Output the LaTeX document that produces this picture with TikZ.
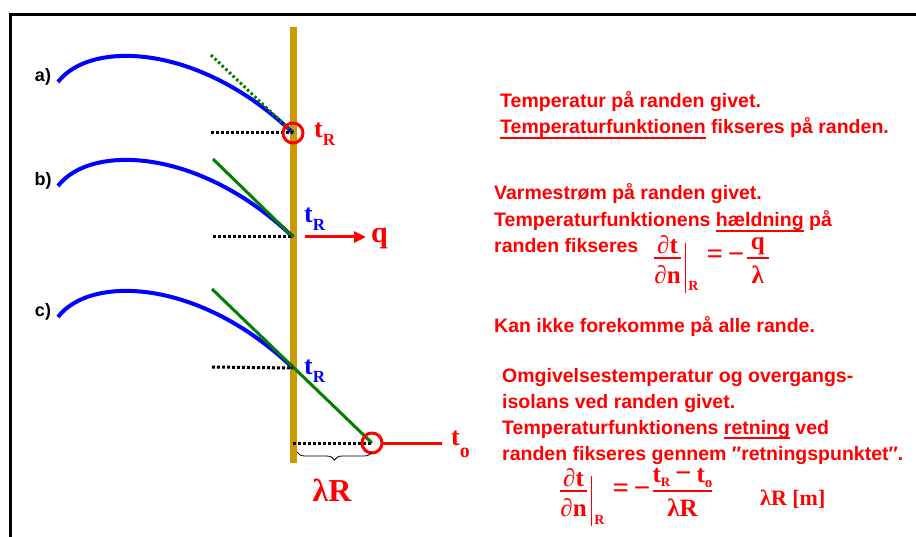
\documentclass[tikz,border=0pt]{standalone}
\usepackage{amsmath}
\usepackage{fontspec}
\setmainfont{Liberation Sans}
\newfontfamily\tnrfont{Liberation Serif}
\usetikzlibrary{arrows.meta, decorations.pathreplacing}
\definecolor{wallgold}{RGB}{204, 153, 0}
\definecolor{tanggreen}{RGB}{0, 128, 0}
\definecolor{curveblue}{RGB}{0, 0, 255}
\definecolor{textred}{RGB}{255, 0, 0}
\newcommand{\tsub}[3]{t\raisebox{-#2pt}{\fontsize{#1}{#1}\selectfont #3}}
\newcommand{\ulword}[1]{\setbox0\hbox{#1}\rlap{\rule[-5pt]{\wd0}{1.8pt}}\box0\relax}
\newcommand{\bdfrac}[2]{\genfrac{}{}{1.8pt}{1}{\hbox{#1\rule[-2pt]{0pt}{2pt}}}{\hbox{\rule{0pt}{23pt}#2}}}
\newcommand{\bigsign}[1]{\hbox{\fontsize{29}{29}\selectfont #1}}
\newcommand{\eqminus}{\bigsign{\;=\,−\kern1pt}}
\newcommand{\atR}{\kern3pt\rule[-29pt]{1.5pt}{50pt}\kern2pt\raisebox{-27pt}{\fontsize{14}{14}\selectfont R}}

\begin{document}
\begin{tikzpicture}[x=1pt, y=-1pt, >=Stealth,
    curve/.style={curveblue, line width=4pt},
    tangent/.style={tanggreen, line width=3pt},
    levelline/.style={black, line width=3pt, dash pattern=on 3pt off 2pt},
    ring/.style={textred, line width=3pt},
    txt/.style={textred, anchor=base west, inner sep=0pt, font=\fontsize{19.5}{26}\selectfont\bfseries},
    tlabel/.style={anchor=base west, inner sep=0pt, font=\tnrfont\bfseries\fontsize{26}{26}\selectfont},
    fmla/.style={textred, anchor=base west, inner sep=0pt, font=\tnrfont\bfseries\fontsize{25}{25}\selectfont}]
    \useasboundingbox (0,0) rectangle (916,537);
    \draw[line width=3pt] (10,537) |- (916,15);
    \draw[wallgold, line width=7pt] (293,27) coordinate (walltop) -- (293,463) coordinate (wallbot);
    \foreach \lbl/\dy in {a/0, b/104, c/235} {
        \begin{scope}[shift={(0,\dy)}]
            \node[font=\fontsize{18}{18}\selectfont\bfseries] (lbl\lbl) at (43,77) {\lbl)};
            \draw[curve] (58,82) .. controls (90,40) and (199,43) .. (293,133) coordinate (end\lbl);
        \end{scope}
    }
    \draw[tangent, dash pattern=on 2.5pt off 2.5pt] (211,55) -- (enda);
    \draw[levelline] (211,133) -- (enda);
    \draw[ring] (enda) circle[radius=10pt];
    \node[tlabel, textred] (tRa) at (314,138) {\tsub{17}{8}{R}};
    \draw[tangent] (213,159) -- (endb);
    \draw[levelline] (213,237) -- (endb);
    \node[tlabel, curveblue] (tRb) at (304,223) {\tsub{17}{8}{R}};
    \node[font=\tnrfont\bfseries\fontsize{30}{30}\selectfont, textred, anchor=base west, inner sep=0pt] (q) at (371,243) {q};
    \coordinate (qtip) at (366,237);
    \draw[textred, line width=3pt, -{Triangle[length=12pt, width=11pt]}] ([xshift=12pt]endb) -- (qtip);
    \draw[tangent] (212,289) -- (372,443) coordinate (dirpt);
    \draw[levelline] (212,367) -- (endc);
    \node[tlabel, curveblue] (tRc) at (304,374) {\tsub{17}{8}{R}};
    \draw[levelline] (wallbot |- dirpt) -- (dirpt);
    \draw[ring] (dirpt) circle[radius=10pt];
    \coordinate (airend) at (442,443);
    \draw[ring] ([xshift=10pt]dirpt) -- (airend);
    \node[tlabel, textred] (to) at (451,445) {\tsub{20}{12}{o}};
    \draw[decorate, decoration={brace, amplitude=8pt, mirror}, thick] (297,452) -- (372,452);
    \node[textred, inner sep=0pt, font=\tnrfont\bfseries\fontsize{32}{32}\selectfont] (lamR) at (332,490) {λR};
    \node[txt] (l1a) at (500,108) {Temperatur på randen givet.};
    \node[txt] (l1b) at (500,134) {\ulword{Temperaturfunktionen} fikseres på randen.};
    \node[txt] (l2a) at (494,200) {Varmestrøm på randen givet.};
    \node[txt] (l2b) at (494,227) {Temperaturfunktionens \ulword{hældning} på};
    \node[txt] (l2c) at (494,253) {randen fikseres};
    \node[fmla] (eqq) at (653,264) {$\bdfrac{∂t}{∂n}\atR\eqminus\bdfrac{\,q\,}{λ}$};
    \node[txt] (l3) at (494,333) {Kan ikke forekomme på alle rande.};
    \node[txt] (l4a) at (502,382) {Omgivelsestemperatur og overgangs-};
    \node[txt] (l4b) at (502,408) {isolans ved randen givet.};
    \node[txt] (l4c) at (502,434) {Temperaturfunktionens \ulword{retning} ved};
    \node[txt] (l4d) at (502,460) {randen fikseres gennem ″retningspunktet″.};
    \node[fmla] (eqr) at (559,497) {$\bdfrac{∂t}{∂n}\atR\eqminus\bdfrac{\tsub{13}{4}{R}\bigsign{\,−\,}\tsub{15}{5}{o}}{λR}$};
    \node[fmla, font=\tnrfont\bfseries\fontsize{22}{22}\selectfont] (unit) at (760,505) {λR [m]};
\end{tikzpicture}
\end{document}
